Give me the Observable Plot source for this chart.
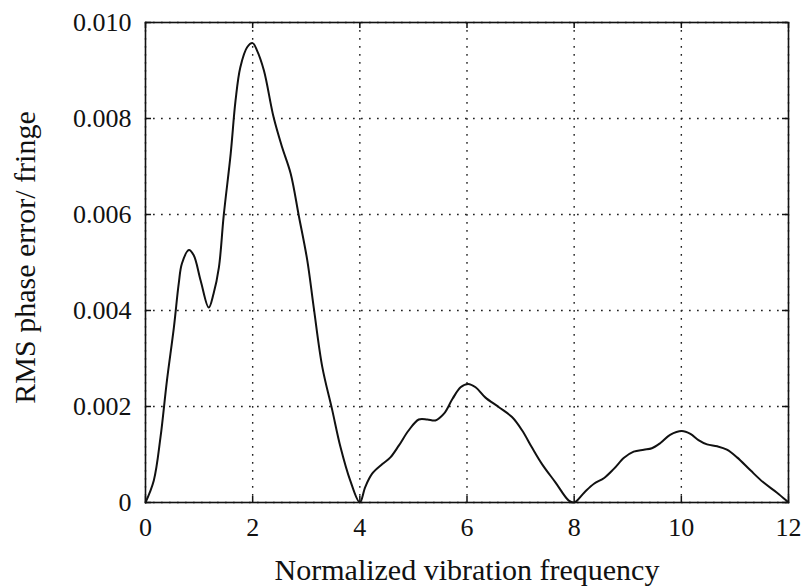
<!DOCTYPE html>
<html>
<head>
<meta charset="utf-8">
<script src="https://cdn.jsdelivr.net/npm/d3@7"></script>
<script src="https://cdn.jsdelivr.net/npm/@observablehq/plot@0.6"></script>
<style>
  html, body { margin: 0; padding: 0; background: #fff; }
</style>
</head>
<body>
<div id="chart"></div>
<script>
// Normalized vibration frequency (x) and RMS phase error / fringe (y)
const freq = [0, 0.155, 0.28, 0.40, 0.53, 0.62, 0.68, 0.81, 0.90, 1.03, 1.18, 1.27, 1.37, 1.46, 1.59, 1.68, 1.77, 1.90, 2.0, 2.08, 2.21, 2.39, 2.55, 2.71, 2.86, 3.02, 3.14, 3.30, 3.48, 3.64, 3.82, 4.0,
  4.10, 4.23, 4.42, 4.57, 4.73, 4.91, 5.10, 5.26, 5.41, 5.57, 5.73, 5.88, 6.02, 6.16, 6.34, 6.59, 6.84, 7.03, 7.21, 7.40, 7.65, 7.90, 8.0,
  8.19, 8.37, 8.56, 8.74, 8.93, 9.11, 9.30, 9.45, 9.61, 9.79, 10.01, 10.17, 10.32, 10.48, 10.67, 10.85, 11.04, 11.29, 11.53, 11.78, 11.97, 12.0];
const rmsError = [0, 0.00046, 0.00136, 0.00254, 0.00365, 0.00456, 0.00498, 0.00526, 0.00515, 0.00462, 0.00406, 0.00435, 0.0049, 0.00598, 0.00727, 0.00837, 0.00907, 0.00949, 0.00957, 0.00942, 0.0090, 0.00803, 0.0074, 0.00685, 0.00598, 0.00504, 0.00406, 0.00282, 0.00195, 0.00115, 0.00046, 0,
  0.00032, 0.0006, 0.0008, 0.00094, 0.00119, 0.0015, 0.00173, 0.00173, 0.00171, 0.00185, 0.00216, 0.0024, 0.00247, 0.0024, 0.00219, 0.00199, 0.00178, 0.0015, 0.00115, 0.0008, 0.00042, 0.00004, 0,
  0.00021, 0.00039, 0.00051, 0.0007, 0.00093, 0.00106, 0.0011, 0.00113, 0.00124, 0.00141, 0.00149, 0.00143, 0.0013, 0.00121, 0.00117, 0.0011, 0.00094, 0.00067, 0.00042, 0.00021, 0.00003, 0];
const xTicks = [0, 2, 4, 6, 8, 10, 12];
const yTicks = [0, 0.002, 0.004, 0.006, 0.008, 0.010];
const xLabel = "Normalized vibration frequency";
const yLabel = "RMS phase error/ fringe";

const data = freq.map((f, i) => ({f, e: rmsError[i]}));

const W = 803, H = 588;
const mL = 145, mR = 15, mT = 22, mB = 86;
const innerW = W - mL - mR, innerH = H - mT - mB;
const font = "'Liberation Serif', 'Times New Roman', serif";
const tickLen = 6;
const dots = "1.7,6.3";

const chart = Plot.plot({
  width: W,
  height: H,
  marginLeft: mL,
  marginRight: mR,
  marginTop: mT,
  marginBottom: mB,
  style: {fontFamily: font, fontSize: "26px", color: "#111", background: "#fff"},
  x: {domain: [0, 12]},
  y: {domain: [0, 0.010]},
  marks: [
    Plot.gridX(xTicks, {stroke: "#222", strokeOpacity: 1, strokeWidth: 1.4, strokeDasharray: dots}),
    Plot.gridY(yTicks, {stroke: "#222", strokeOpacity: 1, strokeWidth: 1.4, strokeDasharray: dots}),
    // inward ticks on all four sides
    Plot.tickX(xTicks, {x: d => d, insetTop: innerH - tickLen, stroke: "#111", strokeWidth: 1.5}),
    Plot.tickX(xTicks, {x: d => d, insetBottom: innerH - tickLen, stroke: "#111", strokeWidth: 1.5}),
    Plot.tickY(yTicks, {y: d => d, insetRight: innerW - tickLen, stroke: "#111", strokeWidth: 1.5}),
    Plot.tickY(yTicks, {y: d => d, insetLeft: innerW - tickLen, stroke: "#111", strokeWidth: 1.5}),
    Plot.axisX({ticks: xTicks, tickSize: 0, tickPadding: 15, label: null, tickFormat: d => String(d), fontSize: 26}),
    Plot.axisY({ticks: yTicks, tickSize: 0, tickPadding: 14, label: null, tickFormat: d => d === 0 ? "0" : d.toFixed(3), fontSize: 26}),
    Plot.line(data, {x: "f", y: "e", stroke: "#111", strokeWidth: 2, curve: "catmull-rom"}),
    Plot.frame({stroke: "#111", strokeWidth: 1.6}),
    Plot.text([xLabel], {text: d => d, frameAnchor: "bottom", textAnchor: "middle", lineAnchor: "middle", dy: 68, fontSize: 30, fill: "#111"}),
    Plot.text([yLabel], {text: d => d, frameAnchor: "left", textAnchor: "middle", lineAnchor: "middle", dx: -120, dy: -5, rotate: -90, fontSize: 30, fill: "#111"})
  ]
});
document.getElementById("chart").appendChild(chart);
</script>
</body>
</html>
